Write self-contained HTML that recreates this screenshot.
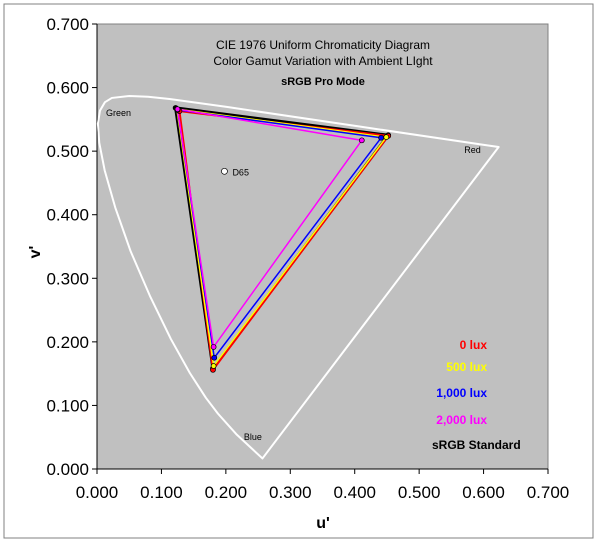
<!DOCTYPE html>
<html><head><meta charset="utf-8"><style>
html,body{margin:0;padding:0;background:#fff;}
svg{display:block;font-family:"Liberation Sans",Arial,sans-serif;}
</style></head><body>
<svg id="chart" width="600" height="550" viewBox="0 0 600 550">
<rect x="4" y="4" width="589" height="534" fill="#fff" stroke="#808080" stroke-width="1"/>
<rect x="97" y="24" width="451" height="445" fill="#c0c0c0" stroke="#808080"/>
<g id="axes"></g>
<g id="series"></g>
<text x="323" y="49" text-anchor="middle" font-size="12">CIE 1976 Uniform Chromaticity Diagram</text>
<text x="323" y="65" text-anchor="middle" font-size="12">Color Gamut Variation with Ambient LIght</text>
<text x="323" y="85" text-anchor="middle" font-size="11" font-weight="bold">sRGB Pro Mode</text>
<text x="323" y="528" text-anchor="middle" font-size="16" font-weight="bold">u'</text>
<text x="40" y="252" text-anchor="middle" font-size="16" font-weight="bold" transform="rotate(-90 40 252)">v'</text>
<g font-size="12" font-weight="bold" text-anchor="end">
<text x="487" y="349" fill="#ff0000">0 lux</text>
<text x="487" y="371" fill="#ffff00">500 lux</text>
<text x="487" y="397" fill="#0000ff">1,000 lux</text>
<text x="487" y="424" fill="#ff00ff">2,000 lux</text>
<text x="432" y="449" text-anchor="start" fill="#000">sRGB Standard</text>
</g>
</svg>
<script>
const xTicks=["0.000","0.100","0.200","0.300","0.400","0.500","0.600","0.700"];
const yTicks=["0.000","0.100","0.200","0.300","0.400","0.500","0.600","0.700"];
const locusU=[0.2568,0.2161,0.1877,0.169,0.1441,0.1147,0.0828,0.0521,0.0282,0.0119,0.0035,0.0014,0.0046,0.0123,0.0231,0.0501,0.0792,0.1127,0.2026,0.4035,0.6005,0.6234];
const locusV=[0.0166,0.0549,0.0871,0.112,0.1510,0.2044,0.2708,0.3427,0.4117,0.4698,0.5131,0.5432,0.5638,0.5770,0.5837,0.5868,0.5856,0.5821,0.5694,0.5393,0.5099,0.5065];
const seriesNames=["sRGB Standard","0 lux","500 lux","1,000 lux","2,000 lux"];
const seriesColors=["#000000","#ff0000","#ffff00","#0000ff","#ff00ff"];
const seriesWidths=[3,2,1.5,1.5,1.5];
const gamutU=[[0.452,0.122,0.180],[0.452,0.128,0.180],[0.449,0.124,0.181],[0.441,0.125,0.182],[0.411,0.125,0.181]];
const gamutV=[[0.525,0.568,0.158],[0.524,0.563,0.156],[0.522,0.566,0.162],[0.521,0.565,0.175],[0.517,0.566,0.192]];
const d65=[0.1978,0.4683];
const labels=[["Green",0.014,0.555],["Red",0.57,0.497],["Blue",0.228,0.046]];
const NS="http://www.w3.org/2000/svg";
const X0=97,X1=548,Y0=469,Y1=24;
const sx=u=>X0+(u/0.7)*(X1-X0);
const sy=v=>Y0-(v/0.7)*(Y0-Y1);
function mk(tag,attrs,parent){const e=document.createElementNS(NS,tag);for(const k in attrs)e.setAttribute(k,attrs[k]);parent.appendChild(e);return e;}
const axes=document.getElementById('axes'),ser=document.getElementById('series');
xTicks.forEach((t,i)=>{const x=sx(i*0.1);
 const l=mk('line',{x1:x,x2:x,y1:Y0,y2:Y0+5,stroke:'#000'},axes);
 
 
 const tx=mk('text',{x:x,y:Y0+29,'text-anchor':'middle','font-size':'17'},axes);tx.textContent=t;
 
 });
yTicks.forEach((t,i)=>{const y=sy(i*0.1);
 const l=mk('line',{x1:X0-5,x2:X0,y1:y,y2:y,stroke:'#000'},axes);
 
 
 const tx=mk('text',{x:X0-8,y:y+6,'text-anchor':'end','font-size':'17'},axes);tx.textContent=t;
 
 });
mk('line',{x1:X0,x2:X1,y1:Y0,y2:Y0,stroke:'#000'},axes);
mk('line',{x1:X0,x2:X0,y1:Y0,y2:Y1,stroke:'#000'},axes);
const loc=mk('polygon',{points:locusU.map((u,i)=>sx(u)+','+sy(locusV[i])).join(' '),fill:'none',stroke:'#fff','stroke-width':2,'stroke-linejoin':'round'},ser);


labels.forEach(l=>{const t=mk('text',{x:sx(l[1]),y:sy(l[2]),'font-size':'9'},ser);t.textContent=l[0];
 
 });
gamutU.forEach((us,s)=>{
 const p=mk('polygon',{points:us.map((u,i)=>sx(u)+','+sy(gamutV[s][i])).join(' '),fill:'none',stroke:seriesColors[s],'stroke-width':seriesWidths[s]},ser);
 
 
});
gamutU.forEach((us,s)=>{us.forEach((u,i)=>{
 const c=mk('circle',{cx:sx(u),cy:sy(gamutV[s][i]),r:2.5,fill:seriesColors[s],stroke:'#000','stroke-width':0.7},ser);
 
 
});});
const dc=mk('circle',{cx:sx(d65[0]),cy:sy(d65[1]),r:3,fill:'#fff',stroke:'#000','stroke-width':0.7},ser);


const dt=mk('text',{x:sx(d65[0])+8,y:sy(d65[1])+4,'font-size':'9'},ser);dt.textContent='D65';


</script>
</body></html>
